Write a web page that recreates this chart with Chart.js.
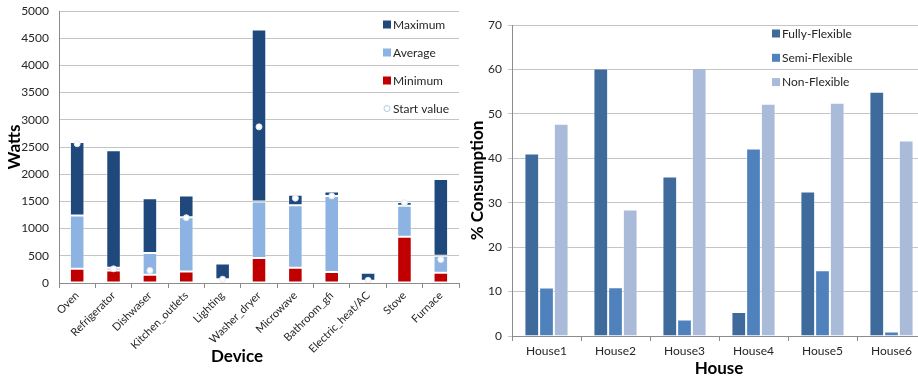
<!DOCTYPE html>
<html>
<head>
<meta charset="utf-8">
<script src="https://cdn.jsdelivr.net/npm/chart.js@4/dist/chart.umd.min.js"></script>
<style>
  html, body { margin: 0; padding: 0; background: #fff; overflow: hidden; width: 918px; height: 379px; }
  #wrapL { position: absolute; left: 0; top: 0; width: 470px; height: 379px; }
  #wrapR { position: absolute; left: 462px; top: 0; width: 470px; height: 379px; }
</style>
</head>
<body>
<div id="wrapL"><canvas id="left"></canvas></div>
<div id="wrapR"><canvas id="right"></canvas></div>
<script>
// ---------- Left chart data ----------
const devices = ['Oven','Refrigerator','Dishwaser','Kitchen_outlets','Lighting','Washer_dryer','Microwave','Bathroom_gfi','Electric_heat/AC','Stove','Furnace'];
const minimum = [260, 230, 150, 210, 30, 460, 280, 200, 25, 850, 190];
const average = [1240, 280, 550, 1210, 70, 1500, 1430, 1600, 40, 1420, 500];
const maximum = [2590, 2440, 1560, 1610, 360, 4660, 1620, 1680, 190, 1490, 1910];
const startValue = [2560, 260, 230, 1200, 70, 2870, 1560, 1600, 50, 1475, 430];
const wattTicks = { min: 0, max: 5000, step: 500 };

// ---------- Right chart data ----------
const houses = ['House1','House2','House3','House4','House5','House6'];
const fullyFlexible = [41.1, 60.2, 35.9, 5.4, 32.5, 55.0];
const semiFlexible = [10.9, 11.0, 3.7, 42.2, 14.8, 1.0];
const nonFlexible = [47.8, 28.5, 60.3, 52.3, 52.5, 44.0];
const pctTicks = { min: 0, max: 70, step: 10 };

const FONT = 'Lato, "Open Sans", sans-serif';
const TXT = '#262626';
const GRID = '#c4c4c4';
const AXIS = '#8c8c8c';

function legendPlugin(id, items, x, y0, dy) {
  return {
    id: id,
    afterDraw(chart) {
      const ctx = chart.ctx;
      ctx.save();
      ctx.font = '12px ' + FONT;
      ctx.textBaseline = 'middle';
      ctx.textAlign = 'left';
      items.forEach((it, i) => {
        const y = y0 + i * dy;
        if (it.type === 'point') {
          ctx.beginPath();
          ctx.arc(x + 4, y, 3, 0, Math.PI * 2);
          ctx.fillStyle = '#ffffff';
          ctx.fill();
          ctx.lineWidth = 1;
          ctx.strokeStyle = '#b8c6dc';
          ctx.stroke();
        } else {
          ctx.fillStyle = it.color;
          ctx.fillRect(x, y - 4, 8, 8);
        }
        ctx.fillStyle = TXT;
        ctx.fillText(it.label, x + 10, y + 0.5);
      });
      ctx.restore();
    }
  };
}

// x-axis title drawn at a given horizontal position (Excel places it off-centre)
function xTitlePlugin(id, text, x, y) {
  return {
    id: id,
    afterDraw(chart) {
      const ctx = chart.ctx;
      ctx.save();
      ctx.font = 'bold 17px ' + FONT;
      ctx.fillStyle = '#000';
      ctx.textAlign = 'center';
      ctx.textBaseline = 'middle';
      ctx.fillText(text, x, y);
      ctx.restore();
    }
  };
}

Chart.defaults.font.family = FONT;
Chart.defaults.color = TXT;
Chart.defaults.animation = false;

// ---------- Left chart ----------
const cMax = '#1f497d', cAvg = '#8db3e2', cMin = '#c00000';
new Chart(document.getElementById('left'), {
  data: {
    labels: devices,
    datasets: [
      { type: 'line', label: 'Start value', data: startValue, showLine: false, order: 0,
        pointRadius: 3, pointHoverRadius: 3, pointBackgroundColor: '#ffffff', pointBorderColor: '#dfe6f0', pointBorderWidth: 1 },
      { type: 'bar', label: 'Maximum', data: maximum.map((v, i) => [average[i], v]), backgroundColor: cMax,
        borderColor: 'rgba(255,255,255,0.35)', borderWidth: 1, borderSkipped: false, order: 1 },
      { type: 'bar', label: 'Average', data: average.map((v, i) => [minimum[i], v]), backgroundColor: cAvg,
        borderColor: 'rgba(255,255,255,0.35)', borderWidth: 1, borderSkipped: false, order: 1 },
      { type: 'bar', label: 'Minimum', data: minimum.map(v => [0, v]), backgroundColor: cMin,
        borderColor: 'rgba(255,255,255,0.35)', borderWidth: 1, borderSkipped: false, order: 1 }
    ]
  },
  options: {
    responsive: true, maintainAspectRatio: false,
    layout: { autoPadding: false, padding: { top: 11, right: 11, bottom: 0, left: 0 } },
    plugins: { legend: { display: false }, tooltip: { enabled: false } },
    datasets: { bar: { barPercentage: 0.5, categoryPercentage: 0.8 } },
    scales: {
      x: {
        stacked: true,
        afterFit(s) { s.height = 96; s.paddingTop = 0; s.paddingBottom = 0; },
        grid: { offset: true, drawOnChartArea: false, drawTicks: true, tickLength: 5, color: AXIS },
        border: { color: AXIS },
        ticks: { autoSkip: false, minRotation: 45, maxRotation: 45, font: { size: 11 }, padding: 1, color: TXT },
        title: { display: false }
      },
      y: {
        min: wattTicks.min, max: wattTicks.max,
        afterFit(s) { s.width = 59; s.paddingTop = 0; s.paddingBottom = 0; },
        grid: { color: GRID, drawTicks: false },
        border: { color: AXIS },
        ticks: { stepSize: wattTicks.step, font: { size: 12 }, padding: 10, color: TXT,
                 callback: v => String(v) },
        title: { display: true, text: 'Watts', font: { size: 17, weight: 'bold' }, color: '#000', padding: { top: 4, bottom: 0 } }
      }
    }
  },
  plugins: [
    legendPlugin('legL', [
      { label: 'Maximum', color: cMax },
      { label: 'Average', color: cAvg },
      { label: 'Minimum', color: cMin },
      { label: 'Start value', type: 'point' }
    ], 383, 24.5, 28),
    xTitlePlugin('xtL', 'Device', 237, 357)
  ]
});

// ---------- Right chart ----------
const cFully = '#3f6a9c', cSemi = '#4f81bd', cNon = '#aabbd9';
new Chart(document.getElementById('right'), {
  type: 'bar',
  data: {
    labels: houses,
    datasets: [
      { label: 'Fully-Flexible', data: fullyFlexible, backgroundColor: cFully, borderColor: 'rgba(255,255,255,0.35)', borderWidth: 1 },
      { label: 'Semi-Flexible', data: semiFlexible, backgroundColor: cSemi, borderColor: 'rgba(255,255,255,0.35)', borderWidth: 1 },
      { label: 'Non-Flexible', data: nonFlexible, backgroundColor: cNon, borderColor: 'rgba(255,255,255,0.35)', borderWidth: 1 }
    ]
  },
  options: {
    responsive: true, maintainAspectRatio: false,
    layout: { padding: { top: 25, right: 6, bottom: 0, left: 0 } },
    plugins: { legend: { display: false }, tooltip: { enabled: false } },
    datasets: { bar: { barPercentage: 1.0, categoryPercentage: 0.64 } },
    scales: {
      x: {
        afterFit(s) { s.height = 43; },
        grid: { offset: true, drawOnChartArea: false, drawTicks: true, tickLength: 5, color: AXIS },
        border: { color: AXIS },
        ticks: { font: { size: 12 }, padding: 3, color: TXT },
        title: { display: true, text: 'House', font: { size: 17, weight: 'bold' }, color: '#000', padding: { top: 0, bottom: 0 } }
      },
      y: {
        min: pctTicks.min, max: pctTicks.max,
        afterFit(s) { s.width = 50; },
        grid: { color: GRID, drawTicks: true, tickLength: 4 },
        border: { color: AXIS },
        ticks: { stepSize: pctTicks.step, font: { size: 12 }, padding: 6, color: TXT },
        title: { display: true, text: '% Consumption', font: { size: 17, weight: 'bold' }, color: '#000', padding: { top: 5, bottom: 0 } }
      }
    }
  },
  plugins: [legendPlugin('legR', [
    { label: 'Fully-Flexible', color: cFully },
    { label: 'Semi-Flexible', color: cSemi },
    { label: 'Non-Flexible', color: cNon }
  ], 310, 33.5, 24.3)]
});
</script>
</body>
</html>
